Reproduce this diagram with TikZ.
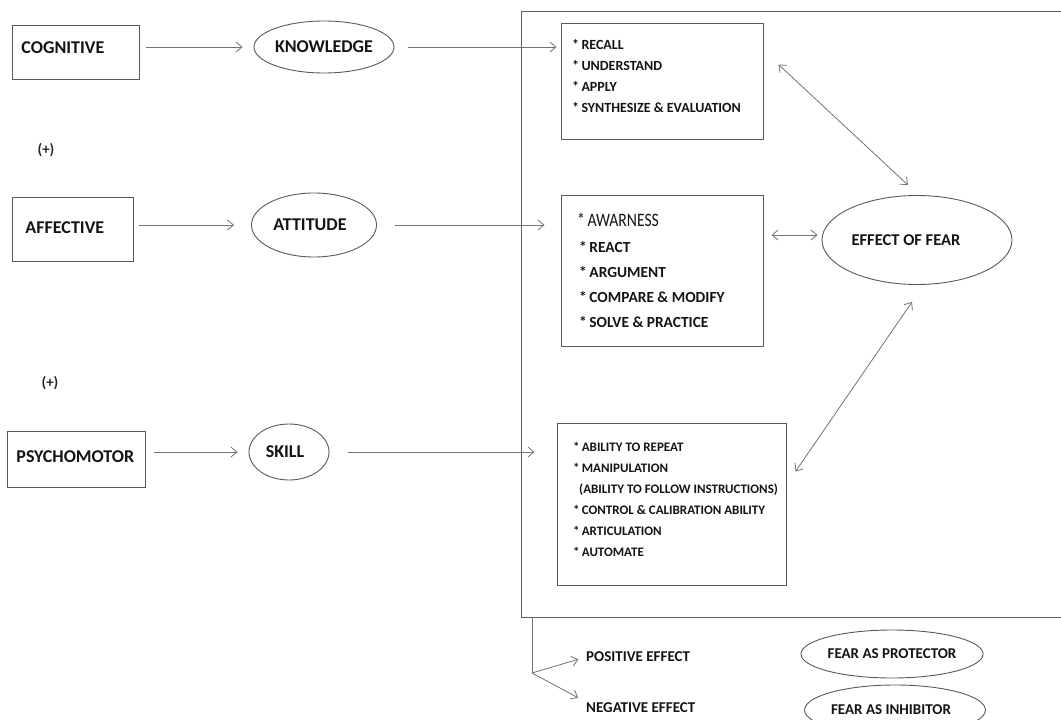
\documentclass[tikz,border=0pt]{standalone}
\usepackage{fontspec}
\setmainfont{Carlito}
\usetikzlibrary{shapes.geometric,calc,arrows.meta}
\begin{document}
\begin{tikzpicture}[x=1pt,y=-1pt,
  line/.style={draw=black!62, line width=1pt},
  arr/.style={draw=black!55, line width=0.8pt, -{Straight Barb[length=6pt,width=10pt]}},
  darr/.style={draw=black!55, line width=0.8pt, {Straight Barb[length=6pt,width=10pt]}-{Straight Barb[length=6pt,width=10pt]}},
  catbox/.style={draw=black!65, line width=1pt, rectangle, inner xsep=0pt, inner ysep=0pt, align=left, anchor=base west, text=black!92, font=\bfseries\fontsize{18}{20}\selectfont},
  oval/.style={draw=black!65, line width=0.9pt, ellipse, inner sep=0pt, text=black!92, font=\bfseries\fontsize{18}{20}\selectfont},
  listbox/.style={draw=black!65, line width=1pt, rectangle, inner sep=0pt},
  listtext/.style={font=\bfseries\fontsize{14}{20.8}\selectfont, text=black!92, align=left, inner sep=0pt, anchor=base west},
  plain/.style={inner sep=0pt, text=black!92, font=\bfseries\fontsize{15}{18}\selectfont},
  plus/.style={inner sep=0pt, font=\bfseries\fontsize{15}{17}\selectfont, text=black!85},
]
\useasboundingbox (0,0) rectangle (1061,720);
\clip (0,0) rectangle (1061,720);

% outer frame (open to the right edge)
\draw[line] (1075,11) -- (521,11) -- (521,617) -- (1075,617);

% category boxes
\node[catbox, text width=127pt, text height=28pt, text depth=26pt] (cog) at (12,53) {\hspace*{9pt}COGNITIVE};
\node[catbox, text width=121pt, text height=36pt, text depth=28pt] (aff) at (12,233) {\hspace*{13pt}AFFECTIVE};
\node[catbox, text width=138pt, text height=31pt, text depth=25pt] (psy) at (7,462) {\hspace*{9pt}PSYCHOMOTOR};

% ovals
\node[oval, minimum width=140pt, minimum height=52pt] (know) at (324,47) {KNOWLEDGE};
\node[oval, minimum width=125pt, minimum height=64pt] (att) at (314,225) {\hspace*{-8pt}ATTITUDE};
\node[oval, minimum width=80pt, minimum height=56pt] (skill) at (289,452) {\hspace*{-8pt}SKILL};
\node[oval, minimum width=190pt, minimum height=89pt, font=\bfseries\fontsize{16.5}{20}\selectfont] (eff) at (917,240) {EFFECT OF FEAR\hspace*{22pt}};

% list boxes
\node[listbox, minimum width=202pt, minimum height=116pt] (b1) at (662,81) {};
\node[listbox, minimum width=202pt, minimum height=151pt] (b2) at (662,270.5) {};
\node[listbox, minimum width=229pt, minimum height=162pt] (b3) at (671.5,504) {};

\node[listtext] (b1t) at (572,112) {*\,RECALL\\*\,UNDERSTAND\\*\,APPLY\\*\,SYNTHESIZE \& EVALUATION};
\node[listtext, font=\bfseries\fontsize{15.4}{25}\selectfont] (b2t) at (577,327)
  {\scalebox{0.95}[1.15]{\mdseries\fontsize{16.5}{20}\selectfont *\,AWARNESS}\\[1pt]
   \hspace*{2pt}*\,REACT\\\hspace*{2pt}*\,ARGUMENT\\\hspace*{2pt}*\,COMPARE \& MODIFY\\\hspace*{2pt}*\,SOLVE \& PRACTICE};
\node[listtext, font=\bfseries\fontsize{13}{20.9}\selectfont] (b3t) at (573,556) {*\,ABILITY TO REPEAT\\*\,MANIPULATION\\\hspace*{6pt}(ABILITY TO FOLLOW INSTRUCTIONS)\\*\,CONTROL \& CALIBRATION ABILITY\\*\,ARTICULATION\\*\,AUTOMATE};

% (+) marks
\node[plus] (p1) at (46,150) {(+)};
\node[plus] (p2) at (50,383) {(+)};

% connectors
\draw[arr, shorten <=6pt, shorten >=11pt] (cog.east |- know.west) -- (know.west);
\draw[arr, shorten <=5pt, shorten >=17pt] (aff.east |- att.west) -- (att.west);
\draw[arr, shorten <=8pt, shorten >=11pt] (psy.east |- skill.west) -- (skill.west);

\draw[arr, shorten <=14pt, shorten >=4pt] (know.east) -- (know.east -| b1.west);
\draw[arr, shorten <=18pt, shorten >=16pt] (att.east) -- (att.east -| b2.west);
\draw[arr, shorten <=19pt, shorten >=22pt] (skill.east) -- (skill.east -| b3.west);

% double arrows to effect of fear
\draw[darr] ($(b1.north east)+(15,42)$) -- ($(eff.north)+(-9,-10)$);
\draw[darr] ($(b2.east |- eff.west)+(8,-5)$) -- ($(eff.west)+(-4,-5)$);
\draw[darr] ($(b3.north east)+(9,49)$) -- ($(eff.south)+(-5,17)$);

% bottom effects
\coordinate (fb) at (532,617);
\coordinate (split) at (532,673);
\node[plain, anchor=west] (pos) at (586,657) {POSITIVE EFFECT};
\node[plain, anchor=west] (neg) at (586,708) {NEGATIVE EFFECT};
\draw[draw=black!55, line width=0.8pt] (fb) -- (split);
\draw[arr, shorten >=8pt] (split) -- (pos.west);
\draw[arr, shorten >=9pt] (split) -- ($(neg.west)+(0,-6)$);

\node[oval, minimum width=170pt, minimum height=48pt, font=\bfseries\fontsize{15}{18}\selectfont] (prot) at (892,654) {FEAR AS PROTECTOR};
\node[oval, minimum width=174pt, minimum height=50pt, font=\bfseries\fontsize{15}{18}\selectfont] (inh) at (895,710) {\raisebox{-2pt}{FEAR AS INHIBITOR}\hspace*{8pt}};
\end{tikzpicture}
\end{document}
